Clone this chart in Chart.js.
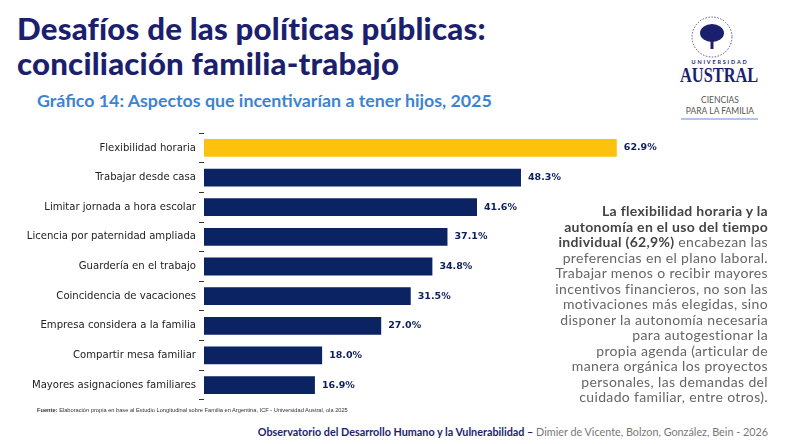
<!DOCTYPE html>
<html><head><meta charset="utf-8">
<script src="https://cdn.jsdelivr.net/npm/chart.js@4.4.1/dist/chart.umd.min.js"></script>
<style>
html,body{margin:0;padding:0;background:#fff;}
body{width:790px;height:444px;position:relative;overflow:hidden;font-family:"Lato",sans-serif;}
.t{position:absolute;white-space:nowrap;}
#title{left:17px;top:11px;font-family:"Lato";font-weight:900;font-size:31.2px;line-height:35px;color:#1c1f6e;letter-spacing:0.2px;}
#sub{left:37px;top:89px;font-family:"Lato";font-weight:700;font-size:17.8px;color:#3b84d3;}
#side{right:22px;top:203px;text-align:right;font-family:"Lato";font-size:14px;line-height:15.5px;color:#666;letter-spacing:0.35px;}
#side b{color:#444;font-weight:700;letter-spacing:0.3px;}
#src{left:37px;top:407px;font-family:"Liberation Sans Narrow","Liberation Sans";font-size:5.7px;color:#333;}
#foot{right:22px;top:425px;font-family:"Lato";font-size:10.8px;color:#777;}
#foot b{color:#1c1f6e;}
#cv{position:absolute;left:0;top:124px;}
</style></head><body>
<div class="t" id="title">Desafíos de las políticas públicas:<br>conciliación familia-trabajo</div>
<div class="t" id="sub">Gráfico 14: Aspectos que incentivarían a tener hijos, 2025</div>
<svg style="position:absolute;left:680px;top:14px" width="80" height="110">
 <circle cx="32" cy="23" r="20" fill="none" stroke="#2a2f7a" stroke-width="0.8" stroke-dasharray="1.5 1.5"/>
 <ellipse cx="32" cy="19" rx="12" ry="9" fill="#1c1f6e"/>
 <rect x="30.5" y="24" width="3" height="11" fill="#1c1f6e"/>
 <line x1="1" y1="105" x2="78" y2="105" stroke="#8fb6e0" stroke-width="1.5"/>
</svg>
<div class="t" style="left:681px;top:59px;width:78px;text-align:center;font-family:'Lato';font-size:5.5px;letter-spacing:1.8px;color:#1c1f6e;font-weight:700;">UNIVERSIDAD</div>
<div class="t" style="left:669px;top:63px;width:100px;text-align:center;font-family:'Liberation Serif';font-weight:bold;font-size:21px;color:#1c1f6e;transform:scaleX(0.78);">AUSTRAL</div>
<div class="t" style="left:679px;top:95px;width:82px;text-align:center;font-family:'Lato';font-size:8.5px;line-height:11px;color:#555;">CIENCIAS<br>PARA LA FAMILIA</div>
<canvas id="cv" width="790" height="285"></canvas>
<div class="t" id="side"><b>La flexibilidad horaria y la<br>autonomía en el uso del tiempo<br>individual (62,9%)</b> encabezan las<br>preferencias en el plano laboral.<br>Trabajar menos o recibir mayores<br>incentivos financieros, no son las<br>motivaciones más elegidas, sino<br>disponer la autonomía necesaria<br>para autogestionar la<br>propia agenda (articular de<br>manera orgánica los proyectos<br>personales, las demandas del<br>cuidado familiar, entre otros).</div>
<div class="t" id="src"><b>Fuente:</b> Elaboración propia en base al Estudio Longitudinal sobre Familia en Argentina, ICF - Universidad Austral, ola 2025</div>
<div class="t" id="foot"><b>Observatorio del Desarrollo Humano y la Vulnerabilidad –</b> Dimier de Vicente, Bolzon, González, Bein - 2026</div>
<script>
const categories = ["Flexibilidad horaria","Trabajar desde casa","Limitar jornada a hora escolar","Licencia por paternidad ampliada","Guardería en el trabajo","Coincidencia de vacaciones","Empresa considera a la familia","Compartir mesa familiar","Mayores asignaciones familiares"];
const values = [62.9,48.3,41.6,37.1,34.8,31.5,27.0,18.0,16.9];
const highlightIndex = 0;
const GOLD = "#fec20e", NAVY = "#0b2263";

const valueLabels = {
  id:'valueLabels',
  afterDatasetsDraw(chart){
    const ctx = chart.ctx;
    const meta = chart.getDatasetMeta(0);
    ctx.save();
    ctx.font = "bold 9.5px 'DejaVu Sans'";
    ctx.fillStyle = "#0b1f5c";
    ctx.textBaseline = "middle";
    ctx.textAlign = "left";
    meta.data.forEach((bar,i)=>{
      ctx.fillText(values[i].toFixed(1)+"%", bar.x+7, bar.y);
    });
    ctx.restore();
  }
};

new Chart(document.getElementById('cv'), {
  type:'bar',
  data:{labels:categories, datasets:[{data:values,
    backgroundColor: values.map((v,i)=> i===highlightIndex?GOLD:NAVY),
    barPercentage:0.6, categoryPercentage:1}]},
  options:{
    indexAxis:'y', responsive:false, animation:false,
    layout:{padding:{top:4.2,bottom:4.2,left:0,right:61}},
    plugins:{legend:{display:false},tooltip:{enabled:false}},
    scales:{
      x:{display:false,min:0,max:80},
      y:{
        afterFit(s){s.width=204;},
        border:{display:false},
        grid:{display:true,drawOnChartArea:false,tickLength:5,color:"#333"},
        ticks:{color:"#222",padding:3,font:{family:"DejaVu Sans",size:10.1}}
      }
    }
  },
  plugins:[valueLabels]
});
</script>
</body></html>
